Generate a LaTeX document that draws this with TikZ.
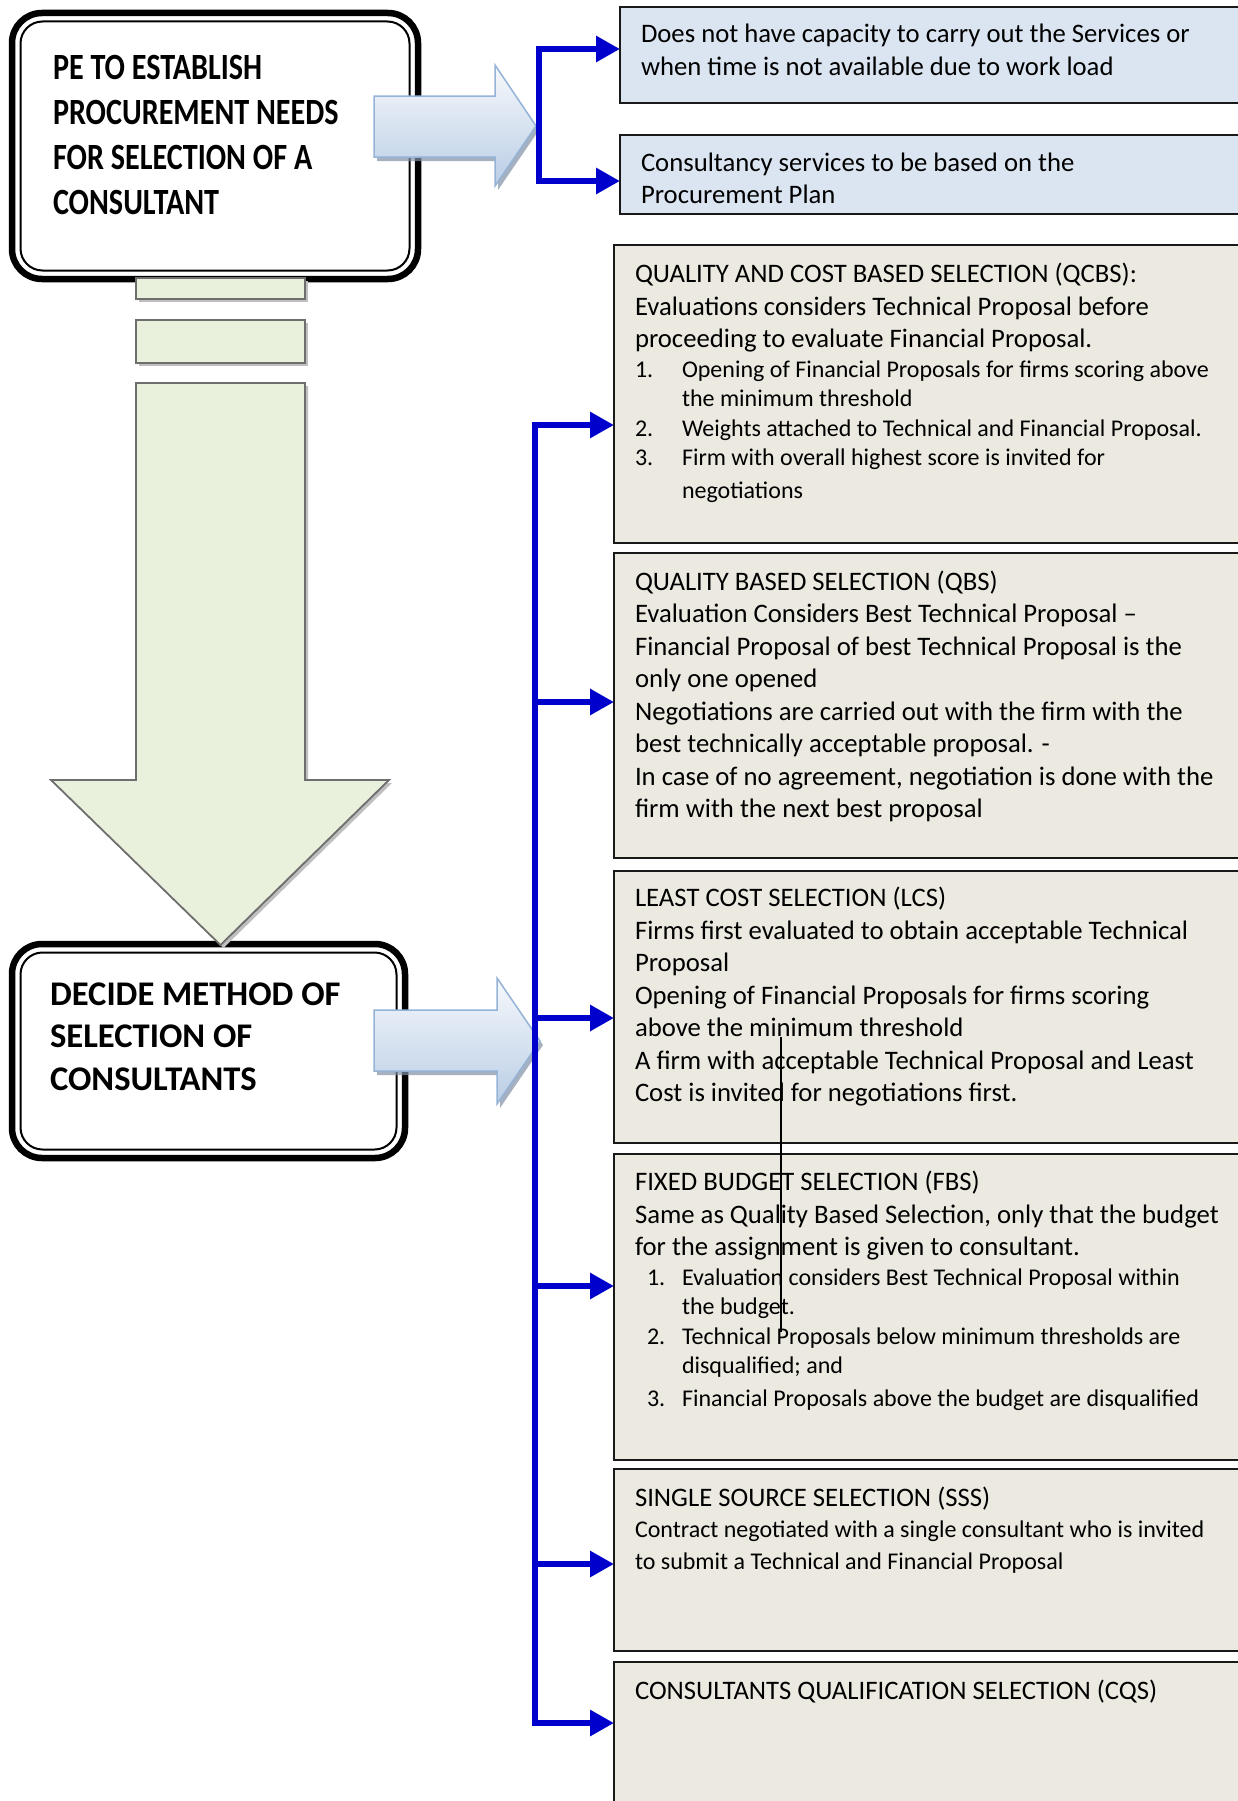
\documentclass[tikz,border=0pt]{standalone}
\usepackage{fontspec}
\setmainfont{Carlito}
\newfontfamily\condfont[FakeStretch=0.815]{Carlito}
\usetikzlibrary{arrows.meta}
\definecolor{spineblue}{RGB}{0,0,204}
\definecolor{paleblue}{HTML}{DBE5F1}
\definecolor{tanfill}{HTML}{ECEAE0}
\definecolor{greenfill}{HTML}{E9F0DC}
\definecolor{greenedge}{HTML}{6E6E6E}
\definecolor{arrowedge}{HTML}{95B3D7}
\definecolor{arrowtop}{HTML}{F7F9FC}
\definecolor{arrowbot}{HTML}{B9CDE5}
\definecolor{arrowshadow}{HTML}{7F8FA6}
\newcommand\mylist{\par\fontsize{24}{29.5}\selectfont}
\newcommand\mysss{\par\fontsize{24}{31}\selectfont}
\newcommand\myitem[1]{\makebox[47pt][l]{#1}}
\newcommand\myitemb[1]{\hspace*{12pt}\makebox[35pt][l]{#1}}
\newcommand\mycont{\hspace*{47pt}}
\begin{document}
\begin{tikzpicture}[x=1pt,y=-1pt,
  roundbox/.style={draw=black, line width=6.5pt, rounded corners=30pt, fill=white, inner sep=0pt, outer sep=0pt},
  innerline/.style={draw=black, line width=2pt, rounded corners=22pt},
  bluebox/.style={draw=black!90, line width=2pt, fill=paleblue, anchor=north west, minimum width=630pt, inner sep=0pt, outer sep=0pt},
  methodbox/.style={draw=black!90, line width=2pt, fill=tanfill, anchor=north west, minimum width=636pt, inner sep=0pt, outer sep=0pt},
  txt/.style={anchor=north west, inner sep=0pt, outer sep=0pt, text width=600pt, align=flush left, font=\fontsize{26.7}{32.5}\selectfont},
  headtxt/.style={anchor=north west, inner sep=0pt, outer sep=0pt, text width=360pt, align=flush left},
  spineline/.style={draw=spineblue, line width=6pt, line cap=rect},
  branch/.style={draw=spineblue, line width=6pt, -{Triangle[length=24pt,width=25pt]}},
  blockarrow/.style={draw=arrowedge, line width=1.5pt, top color=arrowtop, bottom color=arrowbot},
  blockshadow/.style={fill=arrowshadow, fill opacity=0.7},
  greenpart/.style={draw=greenedge, line width=1.8pt, fill=greenfill},
  greenshadow/.style={fill=black!25}
]
\useasboundingbox (0,0) rectangle (1237,1801);
\fill[white] (0,0) rectangle (1237,1801);

% ---- left rounded boxes
\node[roundbox, minimum width=406pt, minimum height=266pt] (pe) at (215,146) {};
\draw[innerline] ([shift={(8.5,8.5)}]pe.north west) rectangle ([shift={(-8.5,-8.5)}]pe.south east);
\node[headtxt, font={\condfont\bfseries\fontsize{37}{45}\selectfont}] (pe-t) at (53,48)
  {\strut PE TO ESTABLISH\\PROCUREMENT NEEDS\\FOR SELECTION OF A\\CONSULTANT};

\node[roundbox, minimum width=393pt, minimum height=214pt] (decide) at (208.5,1051) {};
\draw[innerline] ([shift={(8.5,8.5)}]decide.north west) rectangle ([shift={(-8.5,-8.5)}]decide.south east);
\node[headtxt, font={\bfseries\fontsize{34.6}{42.5}\selectfont}] (decide-t) at (50,975.25)
  {\strut DECIDE METHOD OF\\SELECTION OF\\CONSULTANTS};

% ---- green down arrow (pieces)
\fill[greenshadow, shift={(3,3)}] (136,278) rectangle (305,299);
\fill[greenshadow, shift={(3,3)}] (136,320) rectangle (305,363);
\fill[greenshadow, shift={(3,3)}] (136,383) -- (305,383) -- (305,780) -- (389,780) -- (220.5,945) -- (51,780) -- (136,780) -- cycle;
\path[greenpart] (136,278) rectangle (305,299);
\path[greenpart] (136,320) rectangle (305,363);
\path[greenpart, line join=miter] (136,383) -- (305,383) -- (305,780) -- (389,780) -- (220.5,945) -- (51,780) -- (136,780) -- cycle;

% ---- right block arrows
\fill[blockshadow, shift={(3,4)}] (374,96) -- (495,96) -- (495,65) -- (536,126) -- (495,186) -- (495,157) -- (374,157) -- cycle;
\path[blockarrow] (374,96) -- (495,96) -- (495,65) -- (536,126) -- (495,186) -- (495,157) -- (374,157) -- cycle;
\fill[blockshadow, shift={(3,4)}] (374,1010) -- (497,1010) -- (497,978) -- (540,1041) -- (497,1104) -- (497,1071) -- (374,1071) -- cycle;
\path[blockarrow] (374,1010) -- (497,1010) -- (497,978) -- (540,1041) -- (497,1104) -- (497,1071) -- (374,1071) -- cycle;

% ---- right boxes
\node[bluebox, minimum height=96pt] (b1) at (620,7) {};
\node[bluebox, minimum height=79pt] (b2) at (620,135) {};
\node[txt, font=\fontsize{26.7}{33}\selectfont] (b1-t) at (641,19.4)
  {\strut Does not have capacity to carry out the Services or\\when time is not available due to work load};
\node[txt] (b2-t) at (641,148.25)
  {\strut Consultancy services to be based on the\\Procurement Plan};

\node[methodbox, minimum height=298pt] (qcbs) at (614,245) {};
\node[methodbox, minimum height=305pt] (qbs) at (614,553) {};
\node[methodbox, minimum height=272pt] (lcs) at (614,871) {};
\node[methodbox, minimum height=306pt] (fbs) at (614,1154) {};
\node[methodbox, minimum height=182pt] (sss) at (614,1469) {};
\node[methodbox, minimum height=160pt] (cqs) at (614,1662) {};

\node[txt] (qcbs-t) at (635,259.75)
  {\strut QUALITY AND COST BASED SELECTION (QCBS):\\Evaluations considers Technical Proposal before\\proceeding to evaluate Financial Proposal.\mylist
   \myitem{1.}Opening of Financial Proposals for firms scoring above\\\mycont the minimum threshold\\\myitem{2.}Weights attached to Technical and Financial Proposal.\\\myitem{3.}Firm with overall highest score is invited for\\\mycont negotiations};
\node[txt] (qbs-t) at (635,567.25)
  {\strut QUALITY BASED SELECTION (QBS)\\Evaluation Considers Best Technical Proposal --\\Financial Proposal of best Technical Proposal is the\\only one opened\\Negotiations are carried out with the firm with the\\best technically acceptable proposal. -\\In case of no agreement, negotiation is done with the\\firm with the next best proposal};
\node[txt] (lcs-t) at (635,883.75)
  {\strut LEAST COST SELECTION (LCS)\\Firms first evaluated to obtain acceptable Technical\\Proposal\\Opening of Financial Proposals for firms scoring\\above the minimum threshold\\A firm with acceptable Technical Proposal and Least\\Cost is invited for negotiations first.};
\node[txt] (fbs-t) at (635,1167.75)
  {\strut FIXED BUDGET SELECTION (FBS)\\Same as Quality Based Selection, only that the budget\\for the assignment is given to consultant.\mylist
   \myitemb{1.}Evaluation considers Best Technical Proposal within\\\mycont the budget.\\\myitemb{2.}Technical Proposals below minimum thresholds are\\\mycont disqualified; and\\\myitemb{3.}Financial Proposals above the budget are disqualified};
\node[txt] (sss-t) at (635,1483.25)
  {\strut SINGLE SOURCE SELECTION (SSS)\mysss
   Contract negotiated with a single consultant who is invited\\to submit a Technical and Financial Proposal};
\node[txt] (cqs-t) at (635,1676.75)
  {\strut CONSULTANTS QUALIFICATION SELECTION (CQS)};

% ---- blue connectors, top bracket
\coordinate (s1top) at (539,49);
\coordinate (s1bot) at (539,181);
\draw[spineline] (s1top) -- (s1bot);
\draw[branch] (s1top) -- (s1top -| b1.west);
\draw[branch] (s1bot) -- (s1bot -| b2.west);

% ---- blue connectors, method bracket
\coordinate (s2top) at (535,425);
\coordinate (s2bot) at (535,1723);
\coordinate (j2) at (535,702);
\coordinate (j3) at (535,1018);
\coordinate (j4) at (535,1286);
\coordinate (j5) at (535,1564);
\draw[spineline] (s2top) -- (s2bot);
\draw[branch] (s2top) -- (s2top -| qcbs.west);
\draw[branch] (j2) -- (j2 -| qbs.west);
\draw[branch] (j3) -- (j3 -| lcs.west);
\draw[branch] (j4) -- (j4 -| fbs.west);
\draw[branch] (j5) -- (j5 -| sss.west);
\draw[branch] (s2bot) -- (s2bot -| cqs.west);

% ---- thin stray vertical line
\coordinate (stray-top) at (781,1037);
\coordinate (stray-bot) at (781,1332);
\draw[line width=1.2pt] (stray-top) -- (stray-bot);
\end{tikzpicture}
\end{document}
